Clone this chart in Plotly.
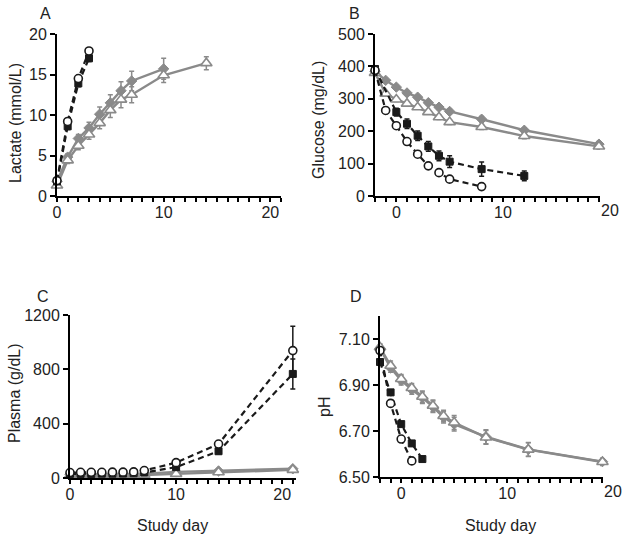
import plotly.graph_objects as go

# ---------------- data ----------------
# Panel A: Lactate (mmol/L)
a_days_black = [0, 1, 2, 3]
a_sq = [1.8, 8.6, 13.9, 17.0]
a_sq_err = [0.2, 0.4, 0.4, 0.4]
a_circ = [1.9, 9.2, 14.5, 17.9]
a_circ_err = [0.2, 0.3, 0.3, 0.3]
a_days_dia = [0, 1, 2, 3, 4, 5, 6, 7, 10]
a_dia = [1.8, 4.8, 7.1, 8.4, 10.1, 11.5, 13.0, 14.2, 15.7]
a_dia_err = [0.3, 0.4, 0.5, 0.7, 0.9, 1.0, 1.1, 1.2, 1.3]
a_days_tri = [0, 1, 2, 3, 4, 5, 6, 7, 10, 14]
a_tri = [1.3, 4.4, 6.2, 7.6, 9.0, 10.6, 11.9, 12.5, 14.9, 16.4]
a_tri_err = [0.3, 0.4, 0.5, 0.6, 0.7, 0.9, 1.0, 1.0, 0.9, 0.8]

# Panel B: Glucose (mg/dL)
b_days_gray = [-2, -1, 0, 1, 2, 3, 4, 5, 8, 12, 19]
b_dia = [385, 357, 336, 318, 305, 288, 274, 261, 237, 203, 160]
b_dia_err = [6, 6, 6, 6, 6, 6, 7, 7, 8, 8, 8]
b_tri = [380, 316, 298, 285, 274, 259, 243, 228, 213, 185, 153]
b_tri_err = [6, 6, 6, 6, 6, 6, 7, 7, 8, 8, 8]
b_days_sq = [-2, 0, 1, 2, 3, 4, 5, 8, 12]
b_sq = [392, 259, 223, 186, 153, 124, 106, 83, 62]
b_sq_err = [8, 12, 15, 15, 15, 15, 18, 22, 15]
b_days_circ = [-2, -1, 0, 1, 2, 3, 4, 5, 8]
b_circ = [388, 264, 217, 168, 129, 93, 72, 52, 29]
b_circ_err = [5, 5, 5, 5, 5, 5, 4, 4, 4]

# Panel C: Plasma (g/dL)
c_days = [0, 1, 2, 3, 4, 5, 6, 7, 10, 14, 21]
c_circ = [40, 42, 42, 42, 43, 43, 45, 55, 113, 250, 938]
c_circ_err = [5, 5, 5, 5, 5, 5, 5, 6, 12, 20, 180]
c_sq = [30, 30, 30, 32, 32, 33, 35, 40, 80, 197, 766]
c_sq_err = [4, 4, 4, 4, 4, 4, 4, 5, 10, 18, 110]
c_dia = [28, 28, 29, 29, 30, 30, 31, 32, 45, 52, 68]
c_dia_err = [3, 3, 3, 3, 3, 3, 3, 3, 4, 5, 6]
c_tri = [18, 18, 19, 19, 20, 20, 21, 22, 30, 42, 60]
c_tri_err = [3, 3, 3, 3, 3, 3, 3, 3, 4, 5, 6]

# Panel D: pH
d_days_gray = [-2, -1, 0, 1, 2, 3, 4, 5, 8, 12, 19]
d_dia = [7.060, 6.975, 6.920, 6.880, 6.845, 6.805, 6.760, 6.730, 6.675, 6.620, 6.567]
d_dia_err = [0.015, 0.02, 0.02, 0.02, 0.025, 0.025, 0.025, 0.03, 0.03, 0.03, 0.015]
d_tri = [7.064, 6.984, 6.926, 6.887, 6.849, 6.810, 6.765, 6.737, 6.672, 6.619, 6.565]
d_tri_err = [0.015, 0.02, 0.02, 0.02, 0.025, 0.025, 0.025, 0.03, 0.03, 0.03, 0.015]
d_days_sq = [-2, -1, 0, 1, 2]
d_sq = [7.00, 6.868, 6.73, 6.646, 6.578]
d_sq_err = [0.01, 0.01, 0.01, 0.01, 0.01]
d_days_circ = [-2, -1, 0, 1]
d_circ = [7.05, 6.82, 6.665, 6.57]
d_circ_err = [0.01, 0.01, 0.01, 0.01]

# tick positions / labels
ac_xticks = list(range(0, 22))          # one tick per study day
bd_xticks = list(range(-2, 20))
x_labelled = [0, 10, 20]
a_yticks = [0, 5, 10, 15, 20]
b_yticks = [0, 100, 200, 300, 400, 500]
c_yticks = [0, 400, 800, 1200]
d_yticks = [6.5, 6.7, 6.9, 7.1]

# ---------------- styling ----------------
W, H = 629, 538
GRAY = "#8a8a8a"
BLACK = "#1a1a1a"
FONT = "Liberation Sans"


def px_x(p):
    return p / W


def px_y(p):
    return 1 - p / H


fig = go.Figure()


def add_gray(x, y, err, xa, ya, symbol):
    if symbol == "diamond":
        marker = dict(symbol="diamond", size=8, color=GRAY, line=dict(color=GRAY, width=1))
    else:
        marker = dict(symbol="triangle-up", size=10, color="white", line=dict(color=GRAY, width=1.6))
    fig.add_trace(go.Scatter(
        x=x, y=y, mode="lines+markers", xaxis=xa, yaxis=ya,
        line=dict(color=GRAY, width=2.4), marker=marker, cliponaxis=False,
        error_y=dict(type="data", array=err, color=GRAY, thickness=1.5, width=2.5),
        showlegend=False, hoverinfo="skip"))


def add_black(x, y, err, xa, ya, symbol):
    if symbol == "square":
        marker = dict(symbol="square", size=7, color=BLACK, line=dict(color=BLACK, width=1))
    else:
        marker = dict(symbol="circle", size=8, color="white", line=dict(color=BLACK, width=1.6))
    fig.add_trace(go.Scatter(
        x=x, y=y, mode="lines+markers", xaxis=xa, yaxis=ya,
        line=dict(color=BLACK, width=2.2, dash="6px,4px"), marker=marker, cliponaxis=False,
        error_y=dict(type="data", array=err, color=BLACK, thickness=1.5, width=2.5),
        showlegend=False, hoverinfo="skip"))


# A
add_gray(a_days_dia, a_dia, a_dia_err, "x", "y", "diamond")
add_gray(a_days_tri, a_tri, a_tri_err, "x", "y", "triangle")
add_black(a_days_black, a_sq, a_sq_err, "x", "y", "square")
add_black(a_days_black, a_circ, a_circ_err, "x", "y", "circle")
# B
add_gray(b_days_gray, b_dia, b_dia_err, "x2", "y2", "diamond")
add_gray(b_days_gray, b_tri, b_tri_err, "x2", "y2", "triangle")
add_black(b_days_sq, b_sq, b_sq_err, "x2", "y2", "square")
add_black(b_days_circ, b_circ, b_circ_err, "x2", "y2", "circle")
# C
add_gray(c_days, c_dia, c_dia_err, "x3", "y3", "diamond")
add_gray(c_days, c_tri, c_tri_err, "x3", "y3", "triangle")
add_black(c_days, c_sq, c_sq_err, "x3", "y3", "square")
add_black(c_days, c_circ, c_circ_err, "x3", "y3", "circle")
# D
add_gray(d_days_gray, d_dia, d_dia_err, "x4", "y4", "diamond")
add_gray(d_days_gray, d_tri, d_tri_err, "x4", "y4", "triangle")
add_black(d_days_sq, d_sq, d_sq_err, "x4", "y4", "square")
add_black(d_days_circ, d_circ, d_circ_err, "x4", "y4", "circle")


def xaxis(domain_px, rng, anchor, tickvals):
    return dict(
        domain=[px_x(domain_px[0]), px_x(domain_px[1])], range=rng, anchor=anchor,
        showline=True, linewidth=2, linecolor="black", showgrid=False, zeroline=False,
        tickmode="array", tickvals=tickvals,
        ticktext=[str(v) if v in x_labelled else "" for v in tickvals],
        ticks="outside", ticklen=4, tickwidth=1.5, tickcolor="black",
        ticklabelstandoff=-3,
        tickfont=dict(family=FONT, size=16, color="#222"), fixedrange=True)


def yaxis(domain_px, rng, tickvals, ticktext, anchor):
    return dict(
        domain=[px_y(domain_px[1]), px_y(domain_px[0])], range=rng, anchor=anchor,
        showline=True, linewidth=2, linecolor="black", showgrid=False, zeroline=False,
        tickmode="array", tickvals=tickvals, ticktext=ticktext,
        ticks="outside", ticklen=5, tickwidth=1.5, tickcolor="black",
        tickfont=dict(family=FONT, size=16, color="#222"), fixedrange=True)


xb_dom, xb_rng = (375, 600), [-2, 19.1]
xd_dom, xd_rng = (380, 603), [-2, 19.05]

fig.update_layout(
    width=W, height=H, margin=dict(l=0, r=0, t=0, b=0, autoexpand=False),
    paper_bgcolor="white", plot_bgcolor="white", showlegend=False,
    font=dict(family=FONT, size=16, color="#222"), hovermode=False,
    xaxis=xaxis((57, 281), [0, 21], "y", ac_xticks),
    yaxis=yaxis((34, 196), [0, 20], a_yticks, [str(v) for v in a_yticks], "x"),
    xaxis2=xaxis(xb_dom, xb_rng, "y2", bd_xticks),
    yaxis2=yaxis((34, 196), [0, 500], b_yticks, [str(v) for v in b_yticks], "x2"),
    xaxis3=xaxis((70, 296), [0, 21.3], "y3", ac_xticks),
    yaxis3=yaxis((315, 478), [0, 1200], c_yticks, [str(v) for v in c_yticks], "x3"),
    xaxis4=xaxis(xd_dom, xd_rng, "y4", bd_xticks),
    yaxis4=yaxis((316, 477), [6.5, 7.2], d_yticks, ["%.2f" % v for v in d_yticks], "x4"),
)

anns = []


def ann(text, x, y, angle=0, size=16):
    anns.append(dict(text=text, x=x, y=y, xref="paper", yref="paper", showarrow=False,
                     textangle=angle, xanchor="center", yanchor="middle",
                     font=dict(family=FONT, size=size, color="#222")))


def tick_px(dom, rng, v):
    return dom[0] + (v - rng[0]) / (rng[1] - rng[0]) * (dom[1] - dom[0])


# panel letters
ann("A", px_x(45), px_y(13))
ann("B", px_x(354), px_y(13))
ann("C", px_x(43), px_y(297))
ann("D", px_x(356), px_y(297))
# y titles
ann("Lactate (mmol/L)", px_x(15), px_y(123), -90)
ann("Glucose (mg/dL)", px_x(318), px_y(120), -90)
ann("Plasma (g/dL)", px_x(14), px_y(393), -90)
ann("pH", px_x(324), px_y(407), -90)
# x titles
ann("Study day", px_x(172), px_y(525))
ann("Study day", px_x(500), px_y(525))
# tick label "20" lies past the end of the axis line in B and D
ann("20", px_x(tick_px(xb_dom, xb_rng, 20)), px_y(210))
ann("20", px_x(tick_px(xd_dom, xd_rng, 20)), px_y(491))

fig.update_layout(annotations=anns)
# the page's default body margin would push the 629x538 figure out of the window
fig.write_html("out.html", config={"displayModeBar": False},
               post_script="document.body.style.margin='0px';")
